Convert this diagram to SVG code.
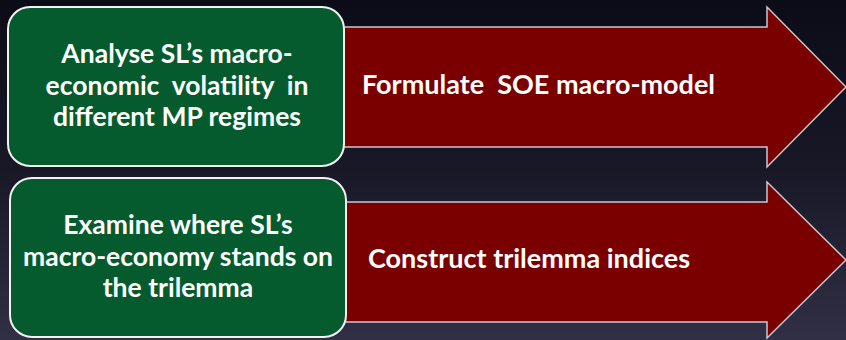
<svg xmlns="http://www.w3.org/2000/svg" width="846" height="340" viewBox="0 0 846 340">
  <defs>
    <linearGradient id="bg" x1="0" y1="0" x2="0" y2="1">
      <stop offset="0" stop-color="#0b0c17"/>
      <stop offset="0.5" stop-color="#181827"/>
      <stop offset="1" stop-color="#312f45"/>
    </linearGradient>
  </defs>
  <style>
    .arrow { fill: #7a0000; stroke: #c9c6cf; stroke-width: 1.5; }
    .box { fill: #055b2d; stroke: #f2f2f2; stroke-width: 2; }
    .t { font-family: Lato, "Open Sans", "Liberation Sans", sans-serif; font-weight: bold; fill: #ffffff; white-space: pre; }
    .c { text-anchor: middle; font-size: 26.5px; }
    .a { font-size: 27px; }
  </style>
  <rect width="846" height="340" fill="url(#bg)"/>

  <g id="connectors">
    <path class="arrow" d="M330 27 H767 V7 L846 87 L767 167 V147 H330 Z"/>
    <path class="arrow" d="M330 202 H767 V182 L846 260 L767 338 V322 H330 Z"/>
    <text class="t a" x="362" y="94" xml:space="preserve">Formulate  SOE macro-model</text>
    <text class="t a" x="368" y="268">Construct trilemma indices</text>
  </g>

  <g id="analyse">
    <rect class="box" x="8" y="7" width="336" height="159" rx="22"/>
    <text class="t c" x="177" y="63">Analyse SL’s macro-</text>
    <text class="t c" x="177" y="95" xml:space="preserve">economic  volatility  in</text>
    <text class="t c" x="177" y="126">different MP regimes</text>
  </g>

  <g id="examine">
    <rect class="box" x="10" y="178" width="336" height="159" rx="22"/>
    <text class="t c" x="178" y="234">Examine where SL’s</text>
    <text class="t c" x="178" y="266">macro-economy stands on</text>
    <text class="t c" x="178" y="297">the trilemma</text>
  </g>
</svg>
